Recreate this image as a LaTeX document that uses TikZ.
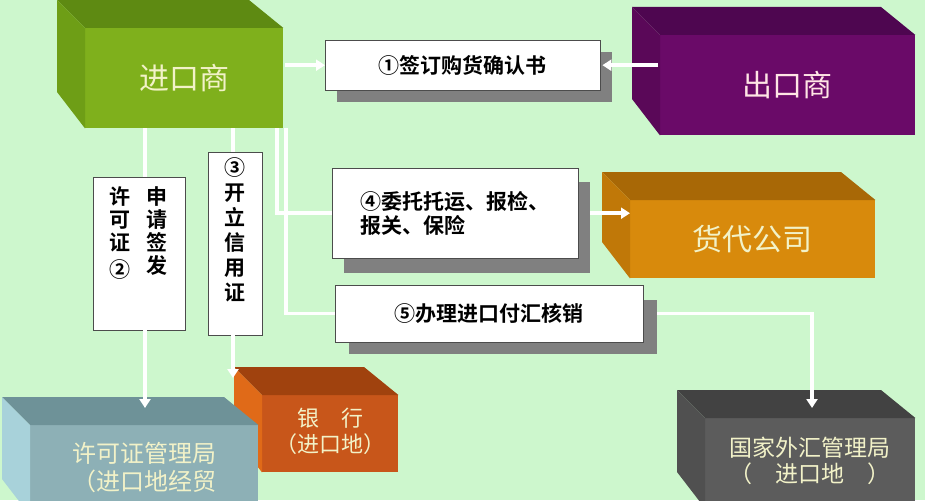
\documentclass[tikz,border=0pt]{standalone}
\usepackage{fontspec}
\setmainfont{Noto Sans CJK SC}
\newfontfamily\lbl{Noto Sans CJK SC Bold}
\usetikzlibrary{arrows.meta}
\definecolor{bgc}{HTML}{CDF7CD}
\definecolor{txc}{HTML}{F2F2C8}
\definecolor{impf}{HTML}{7FB01C}\definecolor{impt}{HTML}{5E8A12}\definecolor{imps}{HTML}{6E9E16}
\definecolor{expf}{HTML}{6A0A68}\definecolor{expt}{HTML}{4E0650}\definecolor{exps}{HTML}{5A0858}
\definecolor{fwdf}{HTML}{D88A0C}\definecolor{fwdt}{HTML}{A86806}\definecolor{fwds}{HTML}{C07808}
\definecolor{bnkf}{HTML}{C8561A}\definecolor{bnkt}{HTML}{A0420E}\definecolor{bnks}{HTML}{E06A18}
\definecolor{licf}{HTML}{8DB0B6}\definecolor{lict}{HTML}{6E9298}\definecolor{lics}{HTML}{A8D2DA}
\definecolor{fxf}{HTML}{5C5C5C}\definecolor{fxt}{HTML}{424242}\definecolor{fxs}{HTML}{505050}
% one solid block: name, x, y, w, h, front, top, side, size, then text
\newcommand{\solid}[9]{%
\node[draw=none,fill=#6,minimum width=#4pt,minimum height=#5pt,anchor=north west,inner sep=0pt] (#1) at (#2,#3) {};
\fill[#7] (#1.north west) -- ++(-28,-28) -- ++(#4-6,0) -- (#1.north east) -- cycle;
\fill[#8] (#1.north west) -- ++(-28,-28) -- ++(0,#5-8) -- (#1.south west) -- cycle;
\node[txc,font=\fontsize{#9}{#9}\selectfont] at (#1.center)}
\begin{document}
\begin{tikzpicture}[x=1pt,y=-1pt,
  flow/.style={white,line width=3.5pt,-{Triangle[length=9pt,width=11pt]}},
  line/.style={white,line width=3.5pt},
  tag/.style={draw=black!70,fill=white,inner sep=0pt,anchor=north west,font=\lbl\fontsize{21}{24}\selectfont},
  shade/.style={fill=black!50}]
\fill[bgc] (0,0) rectangle (925,500);
\useasboundingbox (0,0) rectangle (925,500);
% blocks
\solid{imp}{85}{28}{198}{100}{impf}{impt}{imps}{30}{进口商};
\solid{exp}{660}{35}{255}{100}{expf}{expt}{exps}{30}{\color{pink!40}出口商};
\solid{fwd}{630}{200}{245}{78}{fwdf}{fwdt}{fwds}{30}{货代公司};
\solid{bank}{262}{395}{136}{77}{bnkf}{bnkt}{bnks}{22}{\begin{tabular}{c}银\quad 行\\（进口地）\end{tabular}};
\solid{lic}{30}{425}{228}{90}{licf}{lict}{lics}{24}{\begin{tabular}{c}许可证管理局\\（进口地经贸\end{tabular}};
\solid{fx}{705}{418}{210}{90}{fxf}{fxt}{fxs}{23}{\begin{tabular}{c}国家外汇管理局\\（\quad 进口地\quad ）\end{tabular}};
% labels with shadows
\fill[shade] (337,52) rectangle (612,102);
\node[tag,minimum width=275pt,minimum height=50pt] (s1) at (325,40) {①签订购货确认书\hspace{1em}};
\fill[shade] (344,182) rectangle (590,273);
\node[tag,minimum width=246pt,minimum height=90pt,align=left] (s4) at (332,168) {④委托托运、报检、\\报关、保险\hspace{4.5em}};
\fill[shade] (349,300) rectangle (657,354);
\node[tag,minimum width=308pt,minimum height=57pt] (s5) at (335,285) {⑤办理进口付汇核销\hspace{2.5em}};
\node[tag,minimum width=92pt,minimum height=153pt] (s2) at (93,177) {};
\node[font=\lbl\fontsize{21}{23}\selectfont,anchor=north,align=center] at (120,183) {许\\可\\证\\[4pt]②};
\node[font=\lbl\fontsize{21}{23}\selectfont,anchor=north,align=center] at (157,183) {申\\请\\签\\发};
\node[tag,minimum width=54pt,minimum height=183pt] (s3) at (208,152) {};
\node[font=\lbl\fontsize{21}{25}\selectfont,anchor=north,align=center] at ([yshift=-2pt]s3.north) {③\\开\\立\\信\\用\\证};
% connectors
\coordinate (a) at (277,128); \coordinate (b) at (286,128);
\draw[flow] (imp.east |- s1.west) ++(2,0) -- (s1.west);
\draw[flow] (exp.west |- s1.east) ++(-2,0) -- ([xshift=2pt]s1.east);
\draw[line] (145,128) -- (145,177);
\draw[flow] (145,330) -- (145,408);
\draw[line] (233,128) -- (233,152);
\draw[flow] (233,335) -- (233,378);
\draw[line] (a) |- (s4.west);
\draw[line] (b) |- (s5.west);
\draw[flow] ([xshift=12pt]s4.east) -- (fwd.west |- s4.east);
\draw[flow] ([xshift=14pt]s5.east) -| (812,408);
\end{tikzpicture}
\end{document}
